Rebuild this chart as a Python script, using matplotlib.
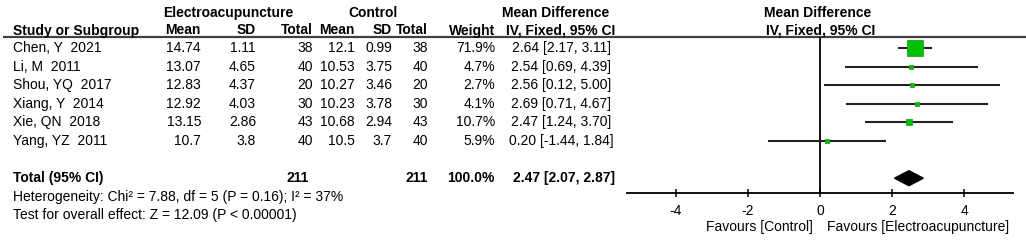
import matplotlib
matplotlib.use("Agg")
import matplotlib.pyplot as plt
from matplotlib.patches import Polygon

plt.rcParams['font.family'] = ['Liberation Sans', 'DejaVu Sans']
plt.rcParams['font.size'] = 10

# data
studies = ["Chen, Y  2021", "Li, M  2011", "Shou, YQ  2017", "Xiang, Y  2014", "Xie, QN  2018", "Yang, YZ  2011"]
ea_mean = ["14.74", "13.07", "12.83", "12.92", "13.15", "10.7"]
ea_sd = ["1.11", "4.65", "4.37", "4.03", "2.86", "3.8"]
ea_n = [38, 40, 20, 30, 43, 40]
ctl_mean = ["12.1", "10.53", "10.27", "10.23", "10.68", "10.5"]
ctl_sd = ["0.99", "3.75", "3.46", "3.78", "2.94", "3.7"]
ctl_n = [38, 40, 20, 30, 43, 40]
weights = [71.9, 4.7, 2.7, 4.1, 10.7, 5.9]
md = [2.64, 2.54, 2.56, 2.69, 2.47, 0.20]
ci_lo = [2.17, 0.69, 0.12, 0.71, 1.24, -1.44]
ci_hi = [3.11, 4.39, 5.00, 4.67, 3.70, 1.84]
total_md, total_lo, total_hi = 2.47, 2.07, 2.87
xticks = [-4, -2, 0, 2, 4]

W, H = 1026, 240
fig = plt.figure(figsize=(W / 100, H / 100), dpi=100)

# table axes in pixel coordinates
tab = fig.add_axes([0, 0, 1, 1])
tab.set_xlim(0, W)
tab.set_ylim(H, 0)
tab.axis('off')

row0, drow = 48.0, 18.6
def row_y(i):
    return row0 + drow * i

# column right edges
c_mean, c_sd, c_n = 201, 256, 313
c_cmean, c_csd, c_cn, c_w = 355, 392, 428, 495
c_md = 561
y_grp, y_hdr, y_line = 13, 30.5, 37

bold = dict(fontweight='bold')
tab.text(228, y_grp, "Electroacupuncture", ha='center', va='center', **bold)
tab.text(373, y_grp, "Control", ha='center', va='center', **bold)
tab.text(556, y_grp, "Mean Difference", ha='center', va='center', **bold)
tab.text(818, y_grp, "Mean Difference", ha='center', va='center', **bold)
tab.text(13, y_hdr, "Study or Subgroup", ha='left', va='center', **bold)
for x, s in [(c_mean, "Mean"), (c_sd, "SD"), (c_n, "Total"), (c_cmean, "Mean"),
             (c_csd, "SD"), (c_cn, "Total"), (c_w, "Weight")]:
    tab.text(x, y_hdr, s, ha='right', va='center', **bold)
tab.text(c_md, y_hdr, "IV, Fixed, 95% CI", ha='center', va='center', **bold)
tab.text(821, y_hdr, "IV, Fixed, 95% CI", ha='center', va='center', **bold)
tab.plot([3, W], [y_line, y_line], color='#404040', lw=1.6, solid_capstyle='butt')

for i, name in enumerate(studies):
    y = row_y(i)
    tab.text(13, y, name, ha='left', va='center')
    tab.text(c_mean, y, ea_mean[i], ha='right', va='center')
    tab.text(c_sd, y, ea_sd[i], ha='right', va='center')
    tab.text(c_n, y, str(ea_n[i]), ha='right', va='center')
    tab.text(c_cmean, y, ctl_mean[i], ha='right', va='center')
    tab.text(c_csd, y, ctl_sd[i], ha='right', va='center')
    tab.text(c_cn, y, str(ctl_n[i]), ha='right', va='center')
    tab.text(c_w, y, f"{weights[i]:.1f}%", ha='right', va='center')
    tab.text(c_md, y, f"{md[i]:.2f} [{ci_lo[i]:.2f}, {ci_hi[i]:.2f}]", ha='center', va='center')

yt = row_y(7)
tab.text(13, yt, "Total (95% CI)", ha='left', va='center', **bold)
tab.text(c_n - 4, yt, str(sum(ea_n)), ha='right', va='center', **bold)
tab.text(c_cn, yt, str(sum(ctl_n)), ha='right', va='center', **bold)
tab.text(c_w, yt, f"{sum(weights):.1f}%", ha='right', va='center', **bold)
tab.text(c_md + 3, yt, f"{total_md:.2f} [{total_lo:.2f}, {total_hi:.2f}]", ha='center', va='center', **bold)
tab.text(13, row_y(8), "Heterogeneity: Chi² = 7.88, df = 5 (P = 0.16); I² = 37%", ha='left', va='center')
tab.text(13, row_y(9), "Test for overall effect: Z = 12.09 (P < 0.00001)", ha='left', va='center')
tab.text(813, 226.5, "Favours [Control]", ha='right', va='center')
tab.text(827, 226.5, "Favours [Electroacupuncture]", ha='left', va='center')

# forest axes
x0, x1, ytop, ybot = 627, 1013, y_line, 193.3
ax = fig.add_axes([x0 / W, 1 - ybot / H, (x1 - x0) / W, (ybot - ytop) / H])
ax.patch.set_alpha(0)
ax.set_xlim(-5.36, 5.36)
ax.set_ylim((ybot - row0) / drow, (ytop - row0) / drow)
for s in ['top', 'left', 'right']:
    ax.spines[s].set_visible(False)
ax.spines['bottom'].set_linewidth(1.3)
ax.set_yticks([])
ax.set_xticks(xticks)
ax.set_xticklabels([str(t) for t in xticks])
ax.tick_params(axis='x', direction='inout', length=6, width=1.1, pad=4.5, labelsize=10)
ax.axvline(0, color='black', lw=1.3)

for i in range(len(studies)):
    ax.plot([ci_lo[i], ci_hi[i]], [i, i], color='#222222', lw=1.5, solid_capstyle='butt', zorder=2)
    side_px = 15.7 * (weights[i] / weights[0]) ** 0.5
    ax.plot(md[i], i, marker='s', ms=max(side_px * 0.72, 2.2), color='#00c000',
            mec='#22a022', mew=0.6, zorder=3)

h = 7.5 / drow
ax.add_patch(Polygon([[total_lo, 7], [total_md, 7 - h], [total_hi, 7], [total_md, 7 + h]],
                     closed=True, color='black', zorder=3))

fig.savefig("out.png", dpi=100)
